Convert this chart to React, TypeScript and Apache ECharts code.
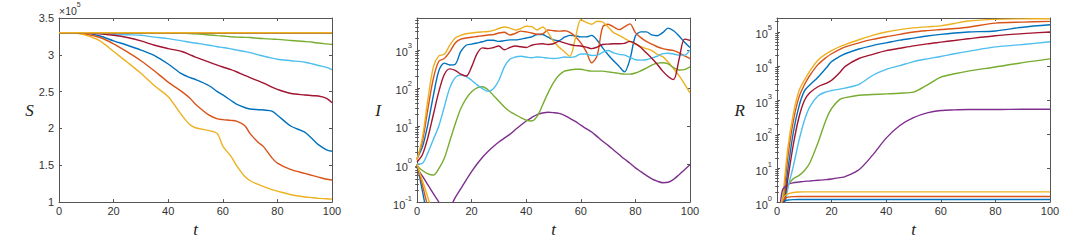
import React, { useEffect, useRef } from "react";
import * as echarts from "echarts";

// ---------- colours (MATLAB default order) ----------
const C_BLUE = "#0072BD";
const C_ORANGE = "#D95319";
const C_YELLOW = "#EDB120";
const C_PURPLE = "#7E2F8E";
const C_GREEN = "#77AC30";
const C_LIGHTBLUE = "#4DBEEE";
const C_DARKRED = "#A2142F";

// ---------- panel 1: S(t) ----------
const tS = [0, 5, 10, 15, 20, 25, 30, 35, 40, 45, 48, 50, 55, 58, 60, 63, 65, 68, 70, 73, 75, 78, 80, 85, 90, 93, 95, 98, 100];
const sBlue = [330000, 330000, 329500, 325500, 319000, 313000, 306500, 299000, 287500, 274000, 269000, 266500, 258000, 250000, 245500, 238000, 233000, 228500, 226500, 225500, 225000, 223500, 218000, 203000, 195000, 185000, 178000, 171000, 169000];
const sOrange = [330000, 330000, 328000, 323500, 315000, 304000, 292000, 278000, 263000, 250000, 241000, 233000, 218000, 213000, 212000, 211000, 210000, 204000, 193000, 181000, 175000, 160000, 153000, 144000, 139000, 136000, 134000, 131000, 130000];
const sYellow = [330000, 330000, 326500, 319000, 304500, 290000, 275000, 258000, 243000, 218000, 205000, 201000, 197000, 193000, 176000, 162000, 150000, 135000, 129000, 124000, 121000, 117000, 115000, 110000, 107000, 106000, 105000, 104500, 104000];
const sPurple = [330000, 330000, 330000, 330000, 330000, 330000, 329950, 329900, 329800, 329700, 329650, 329600, 329550, 329520, 329500, 329500, 329500, 329500, 329500, 329500, 329500, 329500, 329500, 329500, 329500, 329500, 329500, 329500, 329500];
const sGreen = [330000, 330000, 330000, 330000, 330000, 330000, 330000, 330000, 330000, 329500, 329000, 328500, 327000, 326000, 325500, 324500, 324000, 323700, 323500, 322500, 322000, 321300, 321000, 319500, 318000, 317000, 316000, 314800, 314000];
const sLightBlue = [330000, 330000, 330000, 329000, 328000, 327200, 326500, 324000, 322000, 319000, 317000, 316000, 313000, 311000, 310000, 308000, 306500, 304500, 303000, 300000, 298000, 295500, 294000, 292000, 290000, 287500, 285500, 283000, 280000];
const sDarkRed = [330000, 330000, 329500, 328500, 326500, 323500, 319000, 313000, 308500, 304500, 300000, 297000, 290000, 286000, 283500, 280000, 277000, 272000, 269000, 264500, 261500, 256000, 253000, 247500, 245500, 244500, 244000, 241000, 235000];
const tSExtinct = [0, 100];
const sExtinct = [330000, 330000];
const sTicks = { min: 100000, max: 350000, interval: 50000 };

// ---------- panel 2: I(t), values given as log10(I) ----------
const tI = [0, 2, 4, 6, 8, 10, 12, 14, 16, 18, 20, 22, 24, 26, 28, 30, 32, 34, 36, 38, 40, 42, 44, 46, 48, 50, 52, 54, 56, 58, 60, 62, 64, 66, 68, 70, 72, 74, 76, 78, 80, 82, 84, 86, 88, 90, 92, 94, 96, 98, 100];
const logIBlue = [0.15, 0.45, 1.05, 1.8, 2.45, 2.65, 2.6, 2.62, 2.95, 3.12, 3.15, 3.18, 3.21, 3.25, 3.25, 3.22, 3.24, 3.26, 3.26, 3.28, 3.31, 3.34, 3.4, 3.4, 3.33, 3.26, 3.24, 3.33, 3.38, 3.37, 3.34, 3.34, 3.38, 3.25, 3.05, 2.87, 2.71, 2.57, 2.42, 2.75, 3.36, 3.47, 3.47, 3.39, 3.37, 3.45, 3.57, 3.5, 3.36, 3.2, 3.06];
const logIOrange = [0.12, 0.6, 1.45, 2.25, 2.7, 2.77, 2.95, 3.18, 3.28, 3.31, 3.33, 3.35, 3.37, 3.39, 3.4, 3.44, 3.46, 3.39, 3.43, 3.49, 3.47, 3.44, 3.41, 3.42, 3.52, 3.5, 3.49, 3.5, 3.46, 3.35, 3.18, 2.95, 2.66, 2.85, 3.6, 3.67, 3.6, 3.53, 3.6, 3.68, 3.45, 3.32, 3.22, 3.15, 3.08, 3.03, 3.0, 2.98, 2.92, 2.84, 2.77];
const logIYellow = [0.1, 0.7, 1.7, 2.55, 2.84, 2.88, 3.12, 3.31, 3.38, 3.42, 3.44, 3.46, 3.47, 3.48, 3.51, 3.56, 3.6, 3.57, 3.52, 3.56, 3.62, 3.61, 3.52, 3.6, 3.45, 3.22, 3.07, 2.95, 2.83, 3.3, 3.79, 3.72, 3.67, 3.75, 3.73, 3.6, 3.45, 3.38, 3.3, 3.22, 3.15, 3.08, 3.03, 2.98, 2.88, 2.82, 2.68, 2.5, 2.32, 2.1, 1.87];
const logIPurple = [-0.1, -0.32, -0.55, -0.78, -1.0, -1.2, -1.15, -0.88, -0.65, -0.42, -0.2, 0.0, 0.18, 0.33, 0.46, 0.58, 0.68, 0.78, 0.9, 1.02, 1.13, 1.22, 1.3, 1.34, 1.36, 1.35, 1.33, 1.28, 1.2, 1.12, 1.02, 0.93, 0.84, 0.72, 0.6, 0.49, 0.37, 0.25, 0.13, 0.02, -0.1, -0.2, -0.3, -0.39, -0.45, -0.49, -0.48, -0.4, -0.28, -0.15, -0.02];
const logIGreen = [-0.05, -0.17, -0.26, -0.29, -0.12, 0.15, 0.6, 1.05, 1.45, 1.72, 1.9, 2.0, 2.03, 1.95, 1.8, 1.65, 1.5, 1.38, 1.3, 1.22, 1.15, 1.13, 1.25, 1.55, 1.87, 2.14, 2.33, 2.44, 2.47, 2.49, 2.49, 2.46, 2.44, 2.44, 2.44, 2.42, 2.4, 2.38, 2.36, 2.36, 2.39, 2.45, 2.52, 2.6, 2.65, 2.66, 2.63, 2.53, 2.47, 2.48, 2.55];
const logILightBlue = [0, 0.02, 0.3, 0.65, 1.0, 1.5, 2.0, 2.27, 2.34, 2.3, 2.2, 2.08, 1.98, 1.91, 1.98, 2.2, 2.55, 2.75, 2.81, 2.83, 2.81, 2.79, 2.81, 2.8, 2.78, 2.77, 2.78, 2.81, 2.8, 2.82, 2.89, 2.89, 2.85, 2.86, 2.93, 2.98, 2.92, 2.88, 2.86, 2.8, 2.74, 2.73, 2.74, 2.78, 2.83, 2.9, 2.91, 2.89, 2.86, 2.86, 3.0];
const logIDarkRed = [0.05, 0.25, 0.7, 1.3, 1.9, 2.35, 2.5, 2.46, 2.36, 2.31, 2.55, 2.9, 3.05, 3.03, 3.06, 3.1, 3.0, 3.06, 3.1, 3.08, 3.06, 3.12, 3.15, 3.16, 3.14, 3.16, 3.22, 3.18, 3.14, 3.11, 3.1, 3.07, 3.03, 3.07, 3.14, 3.15, 3.16, 3.16, 3.17, 3.22, 3.16, 3.06, 2.92, 2.78, 2.62, 2.44, 2.3, 2.22, 2.75, 3.28, 3.25];
const tExtinct = [0, 1, 2, 3, 4, 6, 8, 10, 100];
const iExtinctBlue = [1, 0.44, 0.19, 0.083, 0.036, 0.007, 0.0013, 0.0003, 1e-9];
const iExtinctOrange = [1, 0.52, 0.28, 0.14, 0.076, 0.021, 0.006, 0.0016, 1e-9];
const iExtinctYellow = [1, 0.6, 0.36, 0.22, 0.13, 0.048, 0.017, 0.006, 1e-9];
const iRange = { min: 0.1, max: 6840 };
const iMinorTicks = [0.2, 0.3, 0.4, 0.5, 0.6, 0.7, 0.8, 0.9, 2, 3, 4, 5, 6, 7, 8, 9, 20, 30, 40, 50, 60, 70, 80, 90, 200, 300, 400, 500, 600, 700, 800, 900, 2000, 3000, 4000, 5000, 6000];

// ---------- panel 3: R(t), values given as log10(R) ----------
const tR = [0, 1, 2, 4, 6, 8, 10, 12, 15, 18, 20, 23, 25, 30, 35, 40, 45, 50, 55, 60, 65, 70, 80, 90, 100];
const logRBlue = [-1.5, -0.8, -0.3, 0.96, 2.06, 2.8, 3.26, 3.44, 3.67, 3.94, 4.13, 4.28, 4.36, 4.5, 4.6, 4.68, 4.76, 4.82, 4.88, 4.93, 4.97, 5.0, 5.03, 5.14, 5.21];
const logROrange = [-1.5, -0.6, -0.1, 1.33, 2.39, 3.07, 3.44, 3.72, 4.04, 4.25, 4.36, 4.49, 4.56, 4.68, 4.78, 4.86, 4.93, 5.0, 5.04, 5.07, 5.1, 5.14, 5.26, 5.29, 5.31];
const logRYellow = [-1.5, -0.5, 0.05, 1.6, 2.6, 3.26, 3.58, 3.85, 4.17, 4.36, 4.45, 4.57, 4.63, 4.77, 4.9, 5.0, 5.07, 5.12, 5.15, 5.18, 5.25, 5.32, 5.37, 5.385, 5.39];
const logRPurple = [-1.5, -0.3, 0.35, 0.52, 0.57, 0.59, 0.61, 0.62, 0.64, 0.66, 0.68, 0.72, 0.75, 0.95, 1.38, 1.88, 2.25, 2.48, 2.62, 2.69, 2.71, 2.72, 2.72, 2.73, 2.73];
const logRGreen = [-1.5, -0.6, 0.05, 0.5, 0.69, 0.78, 0.92, 1.15, 1.74, 2.43, 2.75, 3.02, 3.07, 3.14, 3.16, 3.18, 3.2, 3.23, 3.44, 3.67, 3.77, 3.85, 3.97, 4.1, 4.21];
const logRLightBlue = [-1.5, -1.0, -0.5, 0.41, 1.06, 1.79, 2.39, 2.8, 3.12, 3.24, 3.28, 3.32, 3.35, 3.46, 3.72, 3.9, 4.01, 4.13, 4.21, 4.28, 4.36, 4.43, 4.56, 4.63, 4.71];
const logRDarkRed = [-1.5, -0.9, -0.4, 0.69, 1.7, 2.48, 2.98, 3.21, 3.39, 3.49, 3.58, 3.81, 3.99, 4.22, 4.34, 4.45, 4.52, 4.59, 4.65, 4.7, 4.75, 4.8, 4.89, 4.95, 5.0];
const rExtinctBlue = [0.01, 0.5, 0.95, 1.1, 1.15, 1.18, 1.19, 1.19, 1.19];
const rExtinctOrange = [0.01, 0.55, 1.05, 1.3, 1.4, 1.45, 1.46, 1.46, 1.46];
const rExtinctYellow = [0.01, 0.6, 1.2, 1.55, 1.75, 1.92, 1.98, 2.0, 2.0];
const rRange = { min: 1, max: 257000 };
const rMinorTicks = [2, 3, 4, 5, 6, 7, 8, 9, 20, 30, 40, 50, 60, 70, 80, 90, 200, 300, 400, 500, 600, 700, 800, 900, 2000, 3000, 4000, 5000, 6000, 7000, 8000, 9000, 20000, 30000, 40000, 50000, 60000, 70000, 80000, 90000, 200000];

const tTicks = { min: 0, max: 100, interval: 20 };

// ---------- styling ----------
const AXIS_COLOR = "#555555";
const TEXT_COLOR = "#333333";
const LABEL_FONT = "'Liberation Sans', Arial, Helvetica, sans-serif";
const NAME_FONT = "'Liberation Serif', 'Times New Roman', serif";
const GRIDS = [
  { left: 59, top: 18, width: 273, height: 197 },
  { left: 417, top: 18, width: 273, height: 197 },
  { left: 777, top: 18, width: 273, height: 197 },
];

const zip = (xs: number[], ys: number[]) => xs.map((x, i) => [x, ys[i]]);
const fromLog = (ys: number[]) => ys.map((v) => Math.pow(10, v));

const nameStyle = {
  fontFamily: NAME_FONT,
  fontStyle: "italic" as const,
  fontSize: 17,
  color: "#222222",
};
const lineStyleAxis = { color: AXIS_COLOR, width: 1 };

function xAxesFor(gridIndex: number) {
  const base = {
    type: "value" as const,
    gridIndex,
    min: tTicks.min,
    max: tTicks.max,
    interval: tTicks.interval,
    splitLine: { show: false },
    axisLine: { show: true, onZero: false, lineStyle: lineStyleAxis },
    axisTick: { show: true, inside: true, length: 3, lineStyle: lineStyleAxis },
  };
  return [
    {
      ...base,
      position: "bottom" as const,
      name: "t",
      nameLocation: "middle" as const,
      nameGap: 17,
      nameTextStyle: nameStyle,
      axisLabel: { color: TEXT_COLOR, fontSize: 11, fontFamily: LABEL_FONT, margin: 3 },
    },
    { ...base, position: "top" as const, axisLabel: { show: false } },
  ];
}

function logLabel(v: number) {
  const e = Math.round(Math.log10(v));
  return `{b|10}{e|${e}}`;
}
const logRich = {
  b: { fontSize: 11, fontFamily: LABEL_FONT, color: TEXT_COLOR, padding: [5, 0, 0, 0] },
  e: { fontSize: 7.5, fontFamily: LABEL_FONT, color: TEXT_COLOR, verticalAlign: "top" },
};

function yAxesLinear(gridIndex: number, name: string, nameGap: number) {
  const base = {
    type: "value" as const,
    gridIndex,
    min: sTicks.min,
    max: sTicks.max,
    interval: sTicks.interval,
    splitLine: { show: false },
    axisLine: { show: true, onZero: false, lineStyle: lineStyleAxis },
    axisTick: { show: true, inside: true, length: 3, lineStyle: lineStyleAxis },
  };
  return [
    {
      ...base,
      position: "left" as const,
      name,
      nameLocation: "middle" as const,
      nameRotate: 0,
      nameGap,
      nameTextStyle: nameStyle,
      axisLabel: {
        color: TEXT_COLOR,
        fontSize: 11,
        fontFamily: LABEL_FONT,
        margin: 5,
        formatter: (v: number) => String(v / 100000),
      },
    },
    { ...base, position: "right" as const, axisLabel: { show: false } },
  ];
}

function yAxesLog(gridIndex: number, range: { min: number; max: number }, minor: number[], name: string, nameGap: number) {
  const base = {
    type: "log" as const,
    logBase: 10,
    gridIndex,
    min: range.min,
    max: range.max,
    splitLine: { show: false },
  };
  const major = {
    ...base,
    axisLine: { show: true, onZero: false, lineStyle: lineStyleAxis },
    axisTick: { show: true, inside: true, length: 3, lineStyle: lineStyleAxis },
  };
  const minorAxis = {
    ...base,
    axisLine: { show: false },
    axisLabel: { show: false },
    axisTick: { show: true, inside: true, length: 1.8, lineStyle: lineStyleAxis, customValues: minor },
  };
  return [
    {
      ...major,
      position: "left" as const,
      name,
      nameLocation: "middle" as const,
      nameRotate: 0,
      nameGap,
      nameTextStyle: nameStyle,
      axisLabel: {
        margin: 5,
        showMaxLabel: false,
        formatter: logLabel,
        rich: logRich,
      },
    },
    { ...major, position: "right" as const, axisLabel: { show: false } },
    { ...minorAxis, position: "left" as const },
    { ...minorAxis, position: "right" as const },
  ];
}

function line(name: string, color: string, data: number[][], xAxisIndex: number, yAxisIndex: number) {
  return {
    type: "line" as const,
    name,
    data,
    xAxisIndex,
    yAxisIndex,
    showSymbol: false,
    symbol: "none",
    smooth: 0.3,
    clip: true,
    lineStyle: { color, width: 1.4 },
    itemStyle: { color },
    emphasis: { disabled: true },
  };
}

function buildOption() {
  const xAxis = [...xAxesFor(0), ...xAxesFor(1), ...xAxesFor(2)];
  // y axis indices: grid0 -> 0,1 ; grid1 -> 2..5 ; grid2 -> 6..9
  const yAxis = [
    ...yAxesLinear(0, "S", 24),
    ...yAxesLog(1, iRange, iMinorTicks, "I", 36),
    ...yAxesLog(2, rRange, rMinorTicks, "R", 32),
  ];

  const series = [
    // S panel
    line("S blue", C_BLUE, zip(tS, sBlue), 0, 0),
    line("S orange", C_ORANGE, zip(tS, sOrange), 0, 0),
    line("S yellow", C_YELLOW, zip(tS, sYellow), 0, 0),
    line("S purple", C_PURPLE, zip(tS, sPurple), 0, 0),
    line("S green", C_GREEN, zip(tS, sGreen), 0, 0),
    line("S light blue", C_LIGHTBLUE, zip(tS, sLightBlue), 0, 0),
    line("S dark red", C_DARKRED, zip(tS, sDarkRed), 0, 0),
    line("S extinct blue", C_BLUE, zip(tSExtinct, sExtinct), 0, 0),
    line("S extinct orange", C_ORANGE, zip(tSExtinct, sExtinct), 0, 0),
    line("S extinct yellow", C_YELLOW, zip(tSExtinct, sExtinct), 0, 0),
    // I panel
    line("I blue", C_BLUE, zip(tI, fromLog(logIBlue)), 2, 2),
    line("I orange", C_ORANGE, zip(tI, fromLog(logIOrange)), 2, 2),
    line("I yellow", C_YELLOW, zip(tI, fromLog(logIYellow)), 2, 2),
    line("I purple", C_PURPLE, zip(tI, fromLog(logIPurple)), 2, 2),
    line("I green", C_GREEN, zip(tI, fromLog(logIGreen)), 2, 2),
    line("I light blue", C_LIGHTBLUE, zip(tI, fromLog(logILightBlue)), 2, 2),
    line("I dark red", C_DARKRED, zip(tI, fromLog(logIDarkRed)), 2, 2),
    line("I extinct blue", C_BLUE, zip(tExtinct, iExtinctBlue), 2, 2),
    line("I extinct orange", C_ORANGE, zip(tExtinct, iExtinctOrange), 2, 2),
    line("I extinct yellow", C_YELLOW, zip(tExtinct, iExtinctYellow), 2, 2),
    // R panel
    line("R blue", C_BLUE, zip(tR, fromLog(logRBlue)), 4, 6),
    line("R orange", C_ORANGE, zip(tR, fromLog(logROrange)), 4, 6),
    line("R yellow", C_YELLOW, zip(tR, fromLog(logRYellow)), 4, 6),
    line("R purple", C_PURPLE, zip(tR, fromLog(logRPurple)), 4, 6),
    line("R green", C_GREEN, zip(tR, fromLog(logRGreen)), 4, 6),
    line("R light blue", C_LIGHTBLUE, zip(tR, fromLog(logRLightBlue)), 4, 6),
    line("R dark red", C_DARKRED, zip(tR, fromLog(logRDarkRed)), 4, 6),
    line("R extinct blue", C_BLUE, zip(tExtinct, rExtinctBlue), 4, 6),
    line("R extinct orange", C_ORANGE, zip(tExtinct, rExtinctOrange), 4, 6),
    line("R extinct yellow", C_YELLOW, zip(tExtinct, rExtinctYellow), 4, 6),
  ];

  return {
    animation: false,
    backgroundColor: "#ffffff",
    grid: GRIDS.map((g) => ({ ...g, containLabel: false })),
    xAxis,
    yAxis,
    series,
    graphic: [
      {
        type: "text",
        x: 59,
        y: 1,
        silent: true,
        style: {
          text: "{a|×10}{p|5}",
          rich: {
            a: { fontSize: 10.5, fontFamily: LABEL_FONT, fill: TEXT_COLOR, padding: [4, 0, 0, 0] },
            p: { fontSize: 7, fontFamily: LABEL_FONT, fill: TEXT_COLOR, verticalAlign: "top" },
          },
        },
      },
    ],
  };
}

export default function App() {
  const ref = useRef<HTMLDivElement>(null);
  useEffect(() => {
    if (!ref.current) return;
    const chart = echarts.init(ref.current, undefined, { renderer: "svg" });
    chart.setOption(buildOption() as any);
    return () => chart.dispose();
  }, []);
  return (
    <div
      ref={ref}
      style={{ position: "absolute", left: 0, top: 0, width: 1084, height: 243, background: "#ffffff" }}
    />
  );
}
